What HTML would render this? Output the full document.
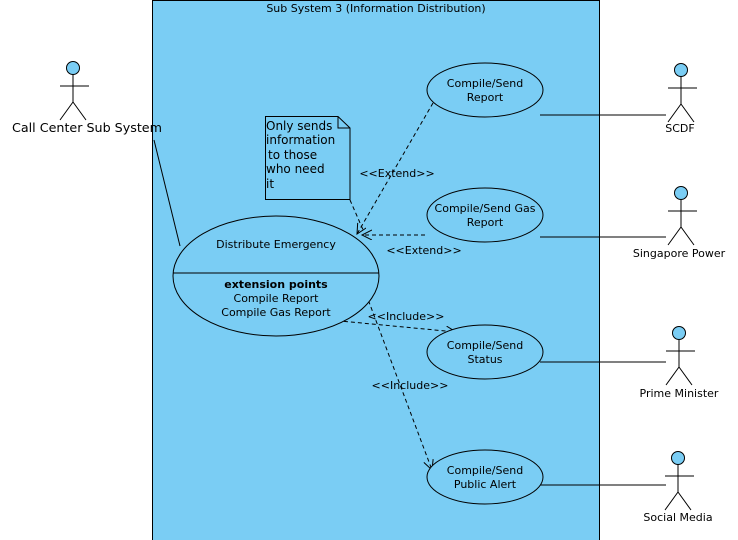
<!DOCTYPE html>
<html><head><meta charset="utf-8"><style>body{margin:0;background:#fff}svg{display:block}text{font-family:"DejaVu Sans","Liberation Sans",sans-serif;font-size:11px;fill:#000}</style></head>
<body>
<svg width="738" height="540" viewBox="0 0 738 540">
<defs><marker id="a" markerWidth="12" markerHeight="12" refX="10" refY="5" orient="auto" markerUnits="userSpaceOnUse"><path d="M0,0 L10,5 L0,10" fill="none" stroke="#000"/></marker></defs>
<rect x="152.5" y="0.5" width="447" height="545" fill="#7acdf4" stroke="#000"/>
<text x="376" y="12" text-anchor="middle">Sub System 3 (Information Distribution)</text>
<g stroke="#000" fill="none">
<line x1="154" y1="140" x2="180" y2="246"/>
<line x1="540" y1="115" x2="666" y2="115"/>
<line x1="540" y1="237" x2="666" y2="237"/>
<line x1="540" y1="362" x2="666" y2="362"/>
<line x1="540" y1="485" x2="666" y2="485"/>
<g stroke-dasharray="4,3">
<line x1="433" y1="103" x2="357" y2="234" marker-end="url(#a)"/>
<line x1="425" y1="235" x2="362" y2="235" marker-end="url(#a)"/>
<line x1="350" y1="200" x2="364" y2="232"/>
<line x1="330" y1="320" x2="456" y2="332" marker-end="url(#a)"/>
<line x1="366" y1="294" x2="432" y2="470" marker-end="url(#a)"/>
</g>
</g>
<g stroke="#000" fill="#7acdf4">
<ellipse cx="485" cy="90" rx="58" ry="27"/>
<ellipse cx="485" cy="215" rx="58" ry="27"/>
<ellipse cx="485" cy="352" rx="58" ry="27"/>
<ellipse cx="485" cy="477" rx="58" ry="27"/>
<ellipse cx="276" cy="276" rx="103" ry="60"/>
<line x1="173" y1="273" x2="379" y2="273"/>
<path d="M265.5,116.5 H338 L350,128 V199.5 H265.5 Z"/>
<path d="M338,116.5 V128 H350" fill="none"/>
</g>
<text x="485" y="87" text-anchor="middle">Compile/Send</text><text x="485" y="101" text-anchor="middle">Report</text>
<text x="485" y="212" text-anchor="middle">Compile/Send Gas</text><text x="485" y="226" text-anchor="middle">Report</text>
<text x="485" y="349" text-anchor="middle">Compile/Send</text><text x="485" y="363" text-anchor="middle">Status</text>
<text x="485" y="474" text-anchor="middle">Compile/Send</text><text x="485" y="488" text-anchor="middle">Public Alert</text>
<text x="276" y="248" text-anchor="middle">Distribute Emergency</text>
<text x="276" y="288" text-anchor="middle" font-weight="bold">extension points</text>
<text x="276" y="302" text-anchor="middle">Compile Report</text>
<text x="276" y="316" text-anchor="middle">Compile Gas Report</text>
<g style="font-size:12px"><text x="266" y="130" style="font-size:12px">Only sends</text><text x="266" y="144" style="font-size:12px">information</text><text x="268" y="159" style="font-size:12px"> to those</text><text x="266" y="173" style="font-size:12px">who need</text><text x="266" y="188" style="font-size:12px">it</text></g>
<text x="397" y="177" text-anchor="middle">&lt;&lt;Extend&gt;&gt;</text>
<text x="424" y="254" text-anchor="middle">&lt;&lt;Extend&gt;&gt;</text>
<text x="406" y="320" text-anchor="middle">&lt;&lt;Include&gt;&gt;</text>
<text x="410" y="389" text-anchor="middle">&lt;&lt;Include&gt;&gt;</text>
<g stroke="#000" fill="none">
<g transform="translate(73,68)"><circle cx="0" cy="0" r="6.5" fill="#7acdf4"/><path d="M0,6.5 V34 M-13,18 H16 M0,34 L-13,52 M0,34 L13,52"/></g>
<g transform="translate(681,70)"><circle cx="0" cy="0" r="6.5" fill="#7acdf4"/><path d="M0,6.5 V34 M-13,18 H16 M0,34 L-13,52 M0,34 L13,52"/></g>
<g transform="translate(681,193)"><circle cx="0" cy="0" r="6.5" fill="#7acdf4"/><path d="M0,6.5 V34 M-13,18 H16 M0,34 L-13,52 M0,34 L13,52"/></g>
<g transform="translate(679,333)"><circle cx="0" cy="0" r="6.5" fill="#7acdf4"/><path d="M0,6.5 V34 M-13,18 H16 M0,34 L-13,52 M0,34 L13,52"/></g>
<g transform="translate(678,458)"><circle cx="0" cy="0" r="6.5" fill="#7acdf4"/><path d="M0,6.5 V34 M-13,18 H16 M0,34 L-13,52 M0,34 L13,52"/></g>
</g>
<text x="87" y="132" text-anchor="middle" style="font-size:12.7px">Call Center Sub System</text>
<text x="680" y="132" text-anchor="middle">SCDF</text>
<text x="679" y="257" text-anchor="middle">Singapore Power</text>
<text x="679" y="397" text-anchor="middle">Prime Minister</text>
<text x="678" y="521" text-anchor="middle">Social Media</text>
</svg>
</body></html>
